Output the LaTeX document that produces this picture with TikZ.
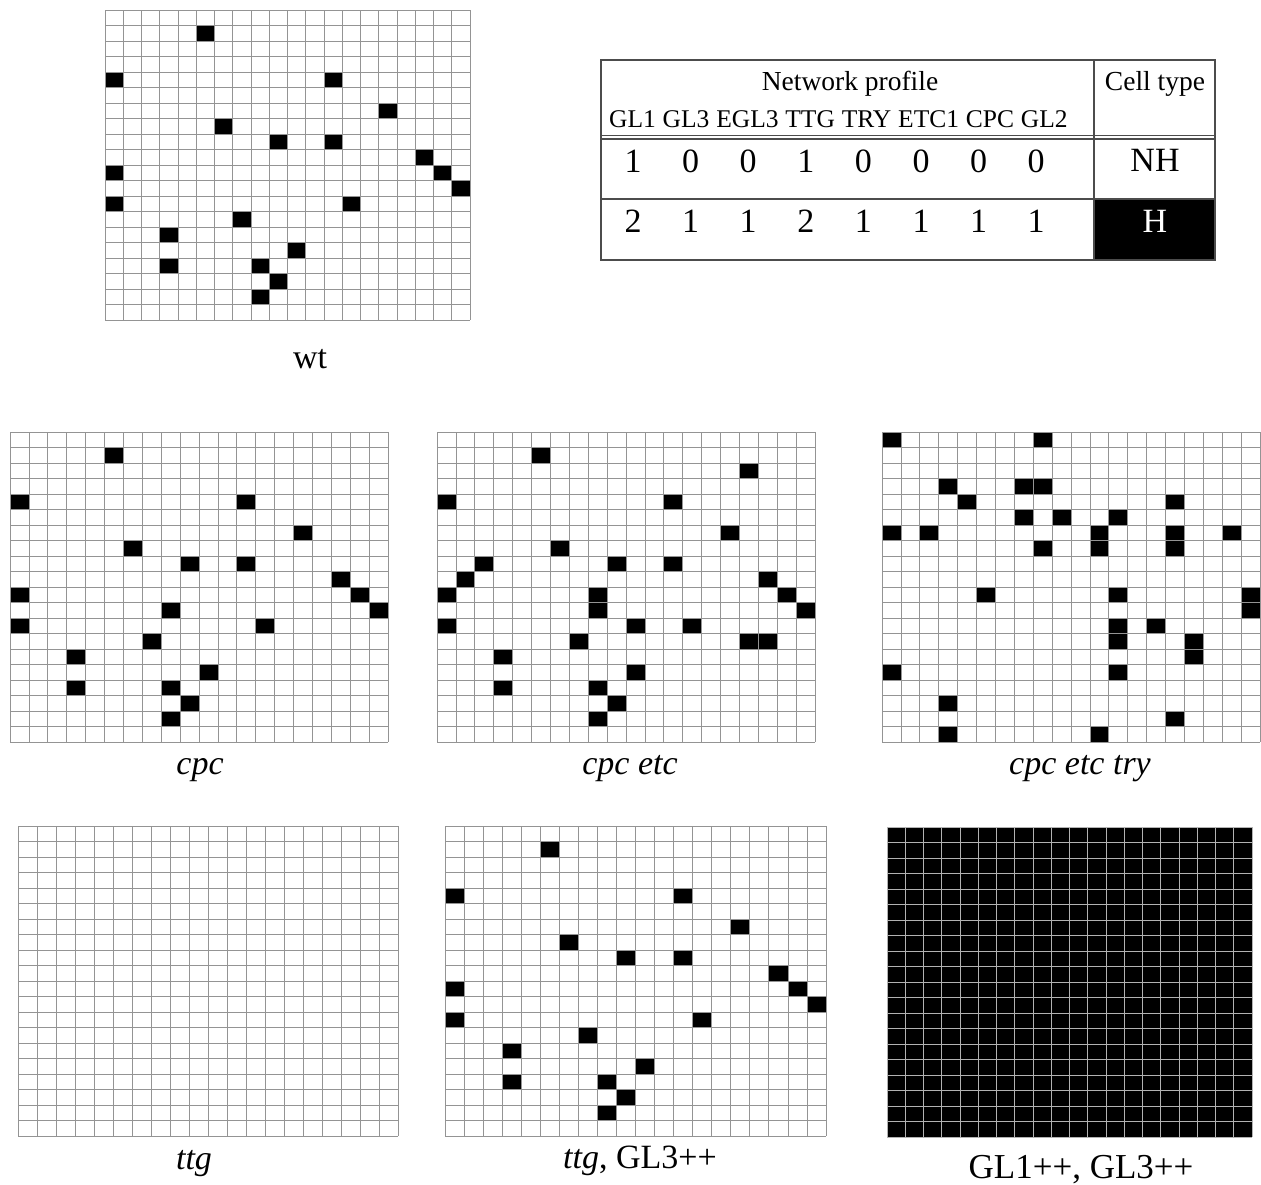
\documentclass[tikz,border=0pt]{standalone}
\usepackage{fontspec}
\setmainfont{Liberation Serif}
\usetikzlibrary{positioning}

% black cells of the wild type pattern (column/row, counted from top left)
\newcommand{\wtcells}{5/1, 0/4, 12/4, 15/6, 6/7, 9/8, 12/8, 17/9, 0/10, 18/10,
  19/11, 0/12, 13/12, 7/13, 3/14, 10/15, 3/16, 8/16, 9/17, 8/18}

% 20 x 20 lattice of cells
\newcommand{\cellgrid}[4]{%
  \begin{scope}[shift={(#1,#2)}, x=#3pt, y=-15.5pt]
    \foreach \i in {0,...,20} {
      \draw[#4] (\i,0) -- (\i,20);
      \draw[#4] (0,\i) -- (20,\i);
    }
  \end{scope}}

% hair cells inside a lattice
\newcommand{\haircells}[4]{%
  \begin{scope}[shift={(#1,#2)}, x=#3pt, y=-15.5pt]
    \foreach \cx/\cy in #4
      \fill[hair] (\cx,\cy) rectangle ++(1,1);
  \end{scope}}

\begin{document}
\begin{tikzpicture}[
        x=1pt, y=-1pt,
        gridline/.style={draw=black!42, line width=0.8pt},
        darkgrid/.style={draw=white!70!black, line width=0.8pt},
        hair/.style={fill=black},
        tabline/.style={draw=black!70, line width=1.1pt},
        caption/.style={
            font=\fontsize{34}{38}\selectfont,
            inner sep=0pt,
            anchor=base
        },
        head/.style={
            font=\fontsize{27.5}{30}\selectfont,
            inner sep=0pt,
            anchor=base
        },
        gene/.style={
            font=\fontsize{25.5}{28}\selectfont,
            inner sep=0pt
        },
        digit/.style={
            font=\fontsize{34}{38}\selectfont,
            inner sep=0pt,
            anchor=base
        }
    ]

        \useasboundingbox (0,0) rectangle (1261,1184);

        % wild type
        \haircells{105}{10}{18.25}{\wtcells}
        \cellgrid{105}{10}{18.25}{gridline}
        \node[caption] (wt) at (310,368) {wt};

        % table of network profiles
        \fill (1094,199) rectangle (1215,260);
        \draw[tabline] (601,60) rectangle (1215,260);
        \draw[tabline] (601,135.5) -- (1215,135.5);
        \draw[tabline] (601,139) -- (1215,139);
        \draw[tabline] (601,199) -- (1215,199);
        \draw[tabline] (1094,60) -- (1094,260);

        \node[head] (netprofile) at (850,90) {Network profile};
        \node[head] (celltype) at (1155,90) {Cell type};
        \node[gene, anchor=base west] (gGL1) at (609,127) {GL1};
        \node[gene, base right=6.4pt of gGL1] (gGL3) {GL3};
        \node[gene, base right=6.4pt of gGL3] (gEGL3) {EGL3};
        \node[gene, base right=6.4pt of gEGL3] (gTTG) {TTG};
        \node[gene, base right=6.4pt of gTTG] (gTRY) {TRY};
        \node[gene, base right=6.4pt of gTRY] (gETC1) {ETC1};
        \node[gene, base right=6.4pt of gETC1] (gCPC) {CPC};
        \node[gene, base right=6.4pt of gCPC] (gGL2) {GL2};
        \foreach \v [count=\k from 0] in {1,0,0,1,0,0,0,0}
            \node[digit] (nh\k) at (633+57.6*\k,172) {\v};
        \foreach \v [count=\k from 0] in {2,1,1,2,1,1,1,1}
            \node[digit] (h\k) at (633+57.6*\k,232) {\v};
        \node[digit] (nhtype) at (1155,171) {NH};
        \node[digit, text=white] (htype) at (1155,232) {H};

        % cpc
        \haircells{10}{432}{18.9}{\wtcells}
        \haircells{10}{432}{18.9}{{8/11}}
        \cellgrid{10}{432}{18.9}{gridline}
        \node[caption] (cpc) at (200,774) {\textit{cpc}};

        % cpc etc
        \haircells{437}{432}{18.9}{{5/1, 16/2, 0/4, 12/4, 15/6, 6/7, 2/8, 9/8, 12/8,
            1/9, 17/9, 0/10, 8/10, 18/10, 8/11, 19/11, 0/12, 10/12, 13/12, 7/13,
            16/13, 17/13, 3/14, 10/15, 3/16, 8/16, 9/17, 8/18}}
        \cellgrid{437}{432}{18.9}{gridline}
        \node[caption] (cpcetc) at (630,774) {\textit{cpc etc}};

        % cpc etc try
        \haircells{882}{432}{18.9}{{0/0, 8/0, 3/3, 7/3, 8/3, 4/4, 15/4, 7/5, 9/5,
            12/5, 0/6, 2/6, 11/6, 15/6, 18/6, 8/7, 11/7, 15/7, 5/10, 12/10, 19/10,
            19/11, 12/12, 14/12, 12/13, 16/13, 16/14, 0/15, 12/15, 3/17, 15/18,
            3/19, 11/19}}
        \cellgrid{882}{432}{18.9}{gridline}
        \node[caption] (cpcetctry) at (1080,774) {\textit{cpc etc try}};

        % ttg
        \cellgrid{18}{826}{19}{gridline}
        \node[caption] (ttg) at (194,1169) {\textit{ttg}};

        % ttg, GL3++
        \haircells{445}{826}{19.05}{\wtcells}
        \cellgrid{445}{826}{19.05}{gridline}
        \node[caption] (ttggl) at (640,1168) {\textit{ttg}, GL3++};

        % GL1++, GL3++
        \fill (887,827) rectangle (1252,1137);
        \begin{scope}[shift={(887,827)}, x=18.25pt, y=-15.5pt]
            \foreach \i in {0,...,20} {
                \draw[darkgrid] (\i,0) -- (\i,20);
                \draw[darkgrid] (0,\i) -- (20,\i);
            }
        \end{scope}
        \node[caption, font=\fontsize{35}{38}\selectfont] (glgl) at (1081,1178) {GL1++, GL3++};

    \end{tikzpicture}
\end{document}
